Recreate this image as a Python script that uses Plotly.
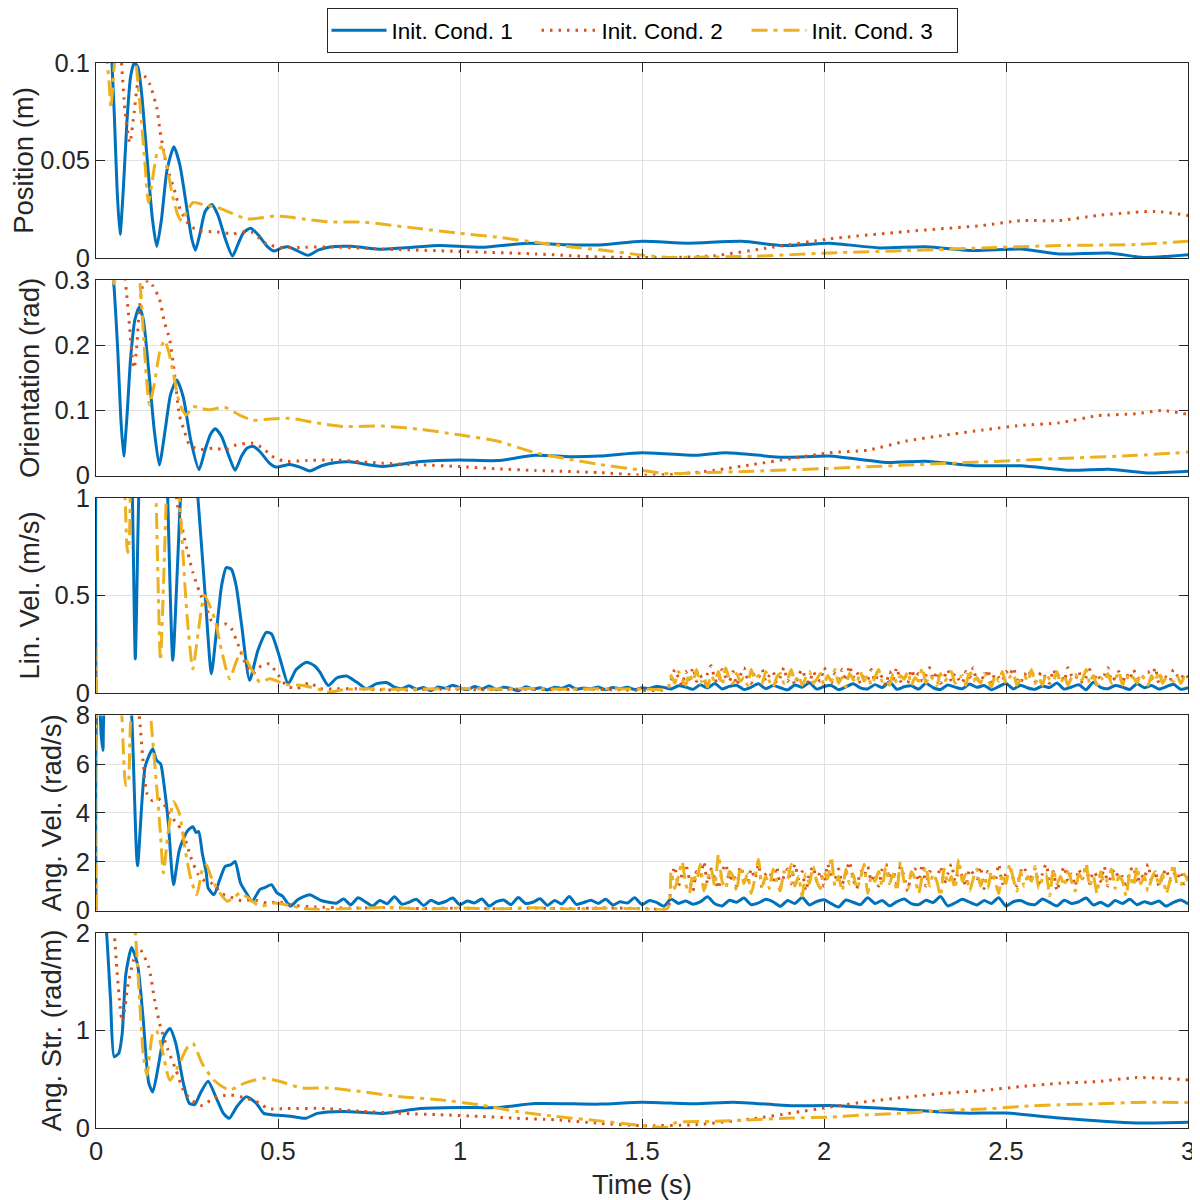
import numpy as np
import plotly.graph_objects as go
from plotly.subplots import make_subplots

# ---- data (time in s, value) -----------------------------------------------
POS_1 = [(0, 0.25), (0.02, 0.2), (0.04, 0.115), (0.05, 0.075), (0.058, 0.035), (0.066, 0.012),
         (0.075, 0.035), (0.085, 0.07), (0.095, 0.093), (0.105, 0.1), (0.115, 0.098), (0.125, 0.085),
         (0.14, 0.052), (0.155, 0.02), (0.167, 0.006), (0.18, 0.02), (0.195, 0.045), (0.214, 0.057),
         (0.23, 0.048), (0.25, 0.025), (0.263, 0.01), (0.273, 0.004), (0.285, 0.012), (0.3, 0.024),
         (0.318, 0.0274), (0.335, 0.022), (0.355, 0.01), (0.375, 0.001), (0.39, 0.007), (0.405, 0.013),
         (0.425, 0.0153), (0.445, 0.012), (0.47, 0.006), (0.49, 0.0036), (0.51, 0.0052), (0.528, 0.0058),
         (0.55, 0.004), (0.583, 0.0014), (0.61, 0.004), (0.643, 0.0057), (0.7, 0.006), (0.787, 0.0045),
         (0.87, 0.0055), (0.944, 0.0064), (1.06, 0.0055), (1.186, 0.0076), (1.3, 0.0068), (1.384, 0.0067),
         (1.5, 0.0086), (1.626, 0.0076), (1.773, 0.0086), (1.889, 0.0064), (2.015, 0.0076), (2.152, 0.0052),
         (2.278, 0.0058), (2.415, 0.0038), (2.541, 0.0046), (2.646, 0.0021), (2.783, 0.0026),
         (2.878, 0.0003), (3.0, 0.0017)]
POS_2 = [(0, 0.3), (0.03, 0.2), (0.06, 0.12), (0.07, 0.1), (0.08, 0.075), (0.093, 0.059), (0.105, 0.075),
         (0.115, 0.09), (0.125, 0.094), (0.135, 0.093), (0.148, 0.089), (0.167, 0.077), (0.176, 0.065),
         (0.194, 0.0475), (0.217, 0.0337), (0.231, 0.025), (0.258, 0.0165), (0.286, 0.0139), (0.332, 0.0134),
         (0.377, 0.0124), (0.41, 0.0135), (0.432, 0.013), (0.45, 0.01), (0.469, 0.0071), (0.514, 0.0053),
         (0.575, 0.0055), (0.643, 0.0057), (0.787, 0.0046), (0.997, 0.0034), (1.207, 0.0021), (1.384, 0.0005),
         (1.574, 0.0003), (1.7, 0.0012), (1.857, 0.0055), (2.015, 0.0098), (2.226, 0.0136), (2.436, 0.0167),
         (2.541, 0.0192), (2.646, 0.0192), (2.751, 0.0218), (2.909, 0.0239), (3.0, 0.0218)]
POS_3 = [(0, 0.14), (0.02, 0.115), (0.031, 0.1), (0.036, 0.09), (0.041, 0.077), (0.046, 0.088), (0.051, 0.1),
         (0.07, 0.12), (0.1, 0.115), (0.11, 0.1), (0.125, 0.07), (0.135, 0.0475), (0.144, 0.0285),
         (0.155, 0.04), (0.168, 0.054), (0.18, 0.057), (0.195, 0.047), (0.21, 0.032), (0.225, 0.022),
         (0.235, 0.019), (0.25, 0.024), (0.267, 0.0285), (0.3, 0.027), (0.332, 0.026), (0.369, 0.0233),
         (0.414, 0.02), (0.45, 0.0205), (0.49, 0.0215), (0.53, 0.021), (0.569, 0.02), (0.643, 0.0185),
         (0.734, 0.0184), (0.892, 0.015), (0.997, 0.0127), (1.102, 0.0107), (1.207, 0.0081), (1.312, 0.0055),
         (1.384, 0.0042), (1.5, 0.0015), (1.574, 0.0003), (1.647, 0.0004), (1.805, 0.0009), (2.015, 0.0026),
         (2.226, 0.0038), (2.436, 0.0052), (2.646, 0.0064), (2.857, 0.0069), (3.0, 0.0086)]

ORI_1 = [(0, 0.6), (0.03, 0.42), (0.05, 0.287), (0.06, 0.19), (0.068, 0.09), (0.076, 0.03), (0.085, 0.09),
         (0.095, 0.18), (0.107, 0.24), (0.119, 0.259), (0.13, 0.24), (0.145, 0.16), (0.16, 0.07), (0.174, 0.016),
         (0.19, 0.07), (0.205, 0.125), (0.222, 0.147), (0.24, 0.12), (0.26, 0.055), (0.283, 0.009), (0.3, 0.04),
         (0.315, 0.064), (0.328, 0.072), (0.345, 0.06), (0.365, 0.03), (0.382, 0.008), (0.4, 0.03),
         (0.415, 0.042), (0.431, 0.045), (0.45, 0.037), (0.475, 0.02), (0.495, 0.013), (0.532, 0.017),
         (0.56, 0.013), (0.587, 0.007), (0.62, 0.015), (0.66, 0.02), (0.697, 0.021), (0.787, 0.014),
         (0.892, 0.0215), (0.997, 0.024), (1.102, 0.023), (1.207, 0.031), (1.3, 0.029), (1.384, 0.03),
         (1.5, 0.035), (1.647, 0.031), (1.731, 0.035), (1.889, 0.028), (2.015, 0.03), (2.173, 0.02),
         (2.278, 0.022), (2.415, 0.015), (2.541, 0.015), (2.678, 0.008), (2.783, 0.0097), (2.888, 0.004),
         (3.0, 0.0067)]
ORI_2 = [(0, 0.6), (0.05, 0.38), (0.08, 0.3), (0.092, 0.23), (0.1, 0.18), (0.105, 0.165), (0.112, 0.2),
         (0.12, 0.26), (0.13, 0.295), (0.145, 0.3), (0.156, 0.292), (0.174, 0.272), (0.188, 0.236),
         (0.202, 0.21), (0.216, 0.155), (0.229, 0.093), (0.243, 0.068), (0.257, 0.047), (0.284, 0.04),
         (0.321, 0.042), (0.358, 0.04), (0.385, 0.047), (0.427, 0.05), (0.459, 0.042), (0.482, 0.03),
         (0.518, 0.022), (0.578, 0.023), (0.65, 0.024), (0.787, 0.019), (0.892, 0.0164), (0.997, 0.0138),
         (1.102, 0.0103), (1.207, 0.0077), (1.384, 0.0045), (1.5, 0.0005), (1.595, 0.002), (1.7, 0.008),
         (1.805, 0.017), (1.91, 0.026), (2.015, 0.035), (2.12, 0.039), (2.226, 0.053), (2.331, 0.062),
         (2.436, 0.07), (2.541, 0.077), (2.646, 0.081), (2.751, 0.092), (2.857, 0.095), (2.93, 0.1),
         (3.0, 0.094)]
ORI_3 = [(0, 0.5), (0.04, 0.32), (0.05, 0.295), (0.06, 0.32), (0.1, 0.36), (0.12, 0.3), (0.13, 0.22),
         (0.14, 0.14), (0.147, 0.109), (0.16, 0.14), (0.175, 0.19), (0.188, 0.208), (0.2, 0.19),
         (0.215, 0.15), (0.23, 0.11), (0.248, 0.093), (0.266, 0.106), (0.29, 0.103), (0.312, 0.101),
         (0.353, 0.105), (0.394, 0.093), (0.431, 0.085), (0.477, 0.087), (0.532, 0.088), (0.606, 0.081),
         (0.679, 0.0755), (0.787, 0.076), (0.892, 0.071), (0.997, 0.0626), (1.102, 0.053), (1.207, 0.035),
         (1.312, 0.024), (1.384, 0.017), (1.5, 0.008), (1.563, 0.003), (1.647, 0.004), (1.805, 0.0067),
         (2.015, 0.011), (2.226, 0.016), (2.436, 0.021), (2.646, 0.026), (2.857, 0.031), (3.0, 0.036)]

LIN_1 = [(0, 0), (0.004, 1.6), (0.05, 2.5), (0.09, 1.6), (0.1, 1.0), (0.108, 0.175), (0.115, 0.8),
         (0.119, 1.1), (0.15, 2.0), (0.19, 1.4), (0.197, 1.0), (0.211, 0.167), (0.225, 0.7), (0.234, 1.05),
         (0.26, 1.4), (0.28, 1.0), (0.3, 0.5), (0.317, 0.099), (0.33, 0.3), (0.345, 0.55), (0.358, 0.643),
         (0.372, 0.634), (0.385, 0.55), (0.4, 0.35), (0.422, 0.065), (0.445, 0.22), (0.468, 0.311),
         (0.482, 0.303), (0.505, 0.18), (0.528, 0.048), (0.55, 0.12), (0.578, 0.158), (0.6, 0.14),
         (0.615, 0.107), (0.638, 0.039), (0.661, 0.077), (0.688, 0.087), (0.716, 0.056), (0.743, 0.022),
         (0.771, 0.048), (0.8, 0.053)]
LIN_2 = [(0, 0), (0.004, 1.5), (0.1, 2.2), (0.2, 1.3), (0.225, 0.95), (0.24, 0.82), (0.252, 0.72),
         (0.266, 0.62), (0.284, 0.52), (0.303, 0.44), (0.317, 0.37), (0.339, 0.345), (0.358, 0.354),
         (0.372, 0.33), (0.39, 0.25), (0.413, 0.14), (0.431, 0.1), (0.454, 0.14), (0.477, 0.15),
         (0.495, 0.107), (0.523, 0.039), (0.55, 0.022), (0.587, 0.053), (0.615, 0.022), (0.661, 0.022),
         (0.716, 0.022), (0.771, 0.017), (0.85, 0.015), (0.95, 0.02), (1.05, 0.017), (1.15, 0.02),
         (1.25, 0.017), (1.35, 0.02), (1.45, 0.016), (1.57, 0.02)]
LIN_3 = [(0, 0), (0.004, 1.5), (0.06, 1.6), (0.08, 1.0), (0.085, 0.75), (0.088, 0.72), (0.092, 0.8),
         (0.096, 1.1), (0.13, 1.6), (0.16, 1.2), (0.165, 1.0), (0.177, 0.167), (0.188, 0.7), (0.195, 1.05),
         (0.215, 1.3), (0.229, 1.0), (0.25, 0.4), (0.266, 0.124), (0.28, 0.3), (0.298, 0.5), (0.326, 0.38),
         (0.344, 0.226), (0.367, 0.073), (0.385, 0.16), (0.399, 0.21), (0.422, 0.14), (0.45, 0.056),
         (0.477, 0.073), (0.523, 0.043), (0.569, 0.039), (0.615, 0.017), (0.642, 0.005), (0.679, 0.017),
         (0.743, 0.022), (0.798, 0.019), (0.9, 0.02), (1.0, 0.024), (1.1, 0.02), (1.2, 0.023), (1.3, 0.019),
         (1.4, 0.022), (1.5, 0.02), (1.57, 0.022)]

ANGV_1 = [(0, 0), (0.004, 8.5), (0.01, 8.3), (0.014, 7.25), (0.019, 6.57), (0.024, 8.6), (0.06, 10),
          (0.09, 9), (0.098, 8), (0.114, 1.84), (0.135, 5.9), (0.156, 6.64), (0.165, 6.2), (0.171, 6.1),
          (0.178, 6.0), (0.187, 5.14), (0.198, 3.71), (0.213, 1.06), (0.229, 2.49), (0.25, 3.24),
          (0.266, 3.44), (0.275, 3.2), (0.282, 3.24), (0.292, 2.35), (0.303, 1.54), (0.308, 0.93),
          (0.324, 0.65), (0.34, 1.27), (0.355, 1.81), (0.371, 1.88), (0.382, 2.01), (0.397, 1.13),
          (0.413, 0.72), (0.429, 0.38), (0.45, 0.86), (0.465, 0.95), (0.482, 1.06), (0.497, 0.72),
          (0.513, 0.58), (0.534, 0.18), (0.555, 0.45), (0.587, 0.65), (0.618, 0.41), (0.64, 0.34)]
ANGV_2 = [(0, 0), (0.004, 8.5), (0.06, 10), (0.11, 9), (0.12, 7.8), (0.13, 6.0), (0.14, 4.8), (0.155, 4.5),
          (0.17, 4.6), (0.185, 4.4), (0.2, 4.0), (0.22, 3.6), (0.235, 3.3), (0.25, 2.7), (0.26, 2.2),
          (0.28, 1.5), (0.3, 1.2), (0.32, 1.1), (0.345, 0.7), (0.37, 0.55), (0.4, 0.4), (0.43, 0.45),
          (0.47, 0.3), (0.5, 0.35), (0.55, 0.2), (0.6, 0.15), (0.7, 0.1), (0.8, 0.12), (0.9, 0.08),
          (1.0, 0.1), (1.1, 0.07), (1.2, 0.1), (1.3, 0.08), (1.4, 0.11), (1.5, 0.08), (1.57, 0.1)]
ANGV_3 = [(0, 0), (0.004, 8.5), (0.04, 10), (0.065, 9), (0.071, 8), (0.077, 6.0), (0.082, 5.14),
          (0.088, 5.2), (0.093, 7), (0.098, 8.5), (0.12, 10), (0.145, 9), (0.15, 8), (0.166, 5.2),
          (0.177, 3.17), (0.185, 1.54), (0.198, 3.17), (0.213, 4.46), (0.229, 3.98), (0.245, 2.49),
          (0.261, 1.27), (0.277, 0.65), (0.292, 1.67), (0.303, 1.88), (0.319, 1.27), (0.34, 0.72),
          (0.361, 0.38), (0.382, 0.58), (0.397, 0.72), (0.418, 0.52), (0.45, 0.18), (0.492, 0.31),
          (0.534, 0.2), (0.576, 0.07), (0.629, 0.04), (0.7, 0.08), (0.8, 0.12), (0.9, 0.06), (1.0, 0.1),
          (1.1, 0.07), (1.2, 0.11), (1.3, 0.06), (1.4, 0.09), (1.5, 0.07), (1.57, 0.09)]

STR_1 = [(0, 3.0), (0.02, 2.3), (0.029, 2.0), (0.04, 1.31), (0.05, 0.73), (0.063, 0.77), (0.072, 0.97),
         (0.082, 1.58), (0.098, 1.85), (0.114, 1.68), (0.129, 1.14), (0.145, 0.46), (0.156, 0.37),
         (0.171, 0.63), (0.187, 0.94), (0.203, 1.02), (0.219, 0.87), (0.24, 0.46), (0.256, 0.255),
         (0.271, 0.24), (0.287, 0.36), (0.308, 0.48), (0.329, 0.32), (0.35, 0.15), (0.366, 0.1),
         (0.387, 0.22), (0.413, 0.32), (0.44, 0.255), (0.461, 0.15), (0.482, 0.136), (0.534, 0.12),
         (0.576, 0.1), (0.608, 0.15), (0.681, 0.17), (0.787, 0.15), (0.892, 0.2), (0.997, 0.21),
         (1.102, 0.21), (1.207, 0.25), (1.384, 0.245), (1.5, 0.265), (1.647, 0.248), (1.752, 0.265),
         (1.91, 0.228), (2.015, 0.231), (2.226, 0.187), (2.383, 0.153), (2.5, 0.153), (2.646, 0.102),
         (2.857, 0.051), (3.0, 0.058)]
STR_2 = [(0, 3.5), (0.04, 2.3), (0.05, 2.0), (0.058, 1.6), (0.066, 1.25), (0.072, 1.09), (0.08, 1.25),
         (0.087, 1.45), (0.103, 1.72), (0.119, 1.84), (0.145, 1.65), (0.161, 1.31), (0.177, 1.04),
         (0.198, 0.8), (0.219, 0.6), (0.24, 0.39), (0.261, 0.29), (0.292, 0.23), (0.324, 0.31),
         (0.366, 0.34), (0.408, 0.31), (0.45, 0.255), (0.471, 0.2), (0.524, 0.2), (0.629, 0.2),
         (0.734, 0.17), (0.839, 0.15), (0.944, 0.136), (1.05, 0.12), (1.155, 0.1), (1.26, 0.085),
         (1.384, 0.048), (1.5, 0.024), (1.647, 0.034), (1.805, 0.095), (1.91, 0.153), (2.015, 0.214),
         (2.12, 0.272), (2.226, 0.316), (2.331, 0.357), (2.436, 0.384), (2.541, 0.425), (2.646, 0.459),
         (2.751, 0.476), (2.857, 0.517), (2.93, 0.51), (3.0, 0.493)]
STR_3 = [(0, 3.5), (0.06, 2.8), (0.1, 2.2), (0.108, 2.0), (0.12, 1.3), (0.13, 0.75), (0.14, 0.54),
         (0.156, 0.97), (0.166, 1.0), (0.182, 0.8), (0.203, 0.49), (0.229, 0.66), (0.25, 0.82),
         (0.266, 0.87), (0.292, 0.66), (0.324, 0.49), (0.366, 0.39), (0.408, 0.46), (0.461, 0.51),
         (0.503, 0.48), (0.566, 0.41), (0.639, 0.41), (0.734, 0.37), (0.839, 0.32), (0.944, 0.29),
         (1.05, 0.24), (1.155, 0.17), (1.26, 0.12), (1.384, 0.073), (1.5, 0.024), (1.568, 0.007),
         (1.595, 0.058), (1.7, 0.068), (1.805, 0.085), (1.91, 0.102), (2.015, 0.112), (2.12, 0.136),
         (2.226, 0.153), (2.331, 0.18), (2.436, 0.194), (2.541, 0.221), (2.646, 0.238), (2.751, 0.248),
         (2.857, 0.262), (3.0, 0.262)]

# noisy tails (sampled every 0.01 s from 1.58 s, or 0.02 s for blue)
NOISE_T = np.round(np.arange(1.58, 3.0001, 0.01), 2)
BLUE_LIN_T = np.round(np.arange(0.82, 3.0001, 0.02), 2)
BLUE_ANGV_T = np.round(np.arange(0.66, 3.0001, 0.02), 2)

LIN_3_NOISE = [0.09, 0.05, 0.11, 0.07, 0.04, 0.10, 0.06, 0.12, 0.05, 0.08,
               0.03, 0.09, 0.06, 0.11, 0.04, 0.13, 0.07, 0.05, 0.10, 0.06,
               0.08, 0.04, 0.12, 0.07, 0.09, 0.05, 0.11, 0.06, 0.03, 0.08,
               0.10, 0.05, 0.07, 0.12, 0.06, 0.09, 0.04, 0.08, 0.11, 0.05,
               0.07, 0.10, 0.04, 0.09, 0.06, 0.12, 0.05, 0.08, 0.03, 0.10,
               0.07, 0.05, 0.11, 0.06, 0.09, 0.04, 0.08, 0.12, 0.06, 0.07,
               0.04, 0.10, 0.05, 0.09, 0.07, 0.11, 0.04, 0.08, 0.06, 0.13,
               0.05, 0.09, 0.07, 0.04, 0.10, 0.06, 0.08, 0.11, 0.05, 0.07,
               0.09, 0.04, 0.12, 0.06, 0.08, 0.05, 0.10, 0.07, 0.03, 0.09,
               0.06, 0.11, 0.05, 0.08, 0.10, 0.04, 0.07, 0.09, 0.06, 0.12,
               0.05, 0.08, 0.04, 0.10, 0.07, 0.06, 0.11, 0.05, 0.09, 0.04,
               0.08, 0.10, 0.06, 0.07, 0.12, 0.05, 0.09, 0.04, 0.08, 0.06,
               0.10, 0.05, 0.07, 0.11, 0.04, 0.09, 0.06, 0.08, 0.05, 0.10,
               0.07, 0.04, 0.09, 0.06, 0.11, 0.05, 0.08, 0.07, 0.06, 0.09,
               0.05, 0.08, 0.07]
LIN_2_NOISE = [0.06, 0.12, 0.08, 0.04, 0.11, 0.07, 0.13, 0.06, 0.09, 0.05,
               0.10, 0.14, 0.07, 0.05, 0.12, 0.08, 0.06, 0.11, 0.04, 0.09,
               0.13, 0.07, 0.05, 0.10, 0.08, 0.12, 0.06, 0.09, 0.11, 0.05,
               0.08, 0.13, 0.06, 0.10, 0.04, 0.09, 0.12, 0.07, 0.05, 0.11,
               0.08, 0.06, 0.13, 0.09, 0.05, 0.10, 0.07, 0.12, 0.06, 0.14,
               0.08, 0.11, 0.05, 0.09, 0.07, 0.12, 0.06, 0.10, 0.08, 0.04,
               0.11, 0.07, 0.13, 0.06, 0.09, 0.05, 0.12, 0.08, 0.10, 0.06,
               0.09, 0.13, 0.07, 0.11, 0.05, 0.08, 0.12, 0.06, 0.10, 0.07,
               0.05, 0.11, 0.08, 0.13, 0.06, 0.09, 0.07, 0.12, 0.05, 0.10,
               0.08, 0.06, 0.11, 0.09, 0.13, 0.07, 0.05, 0.10, 0.08, 0.12,
               0.06, 0.09, 0.11, 0.07, 0.05, 0.12, 0.08, 0.10, 0.06, 0.13,
               0.09, 0.07, 0.11, 0.05, 0.08, 0.12, 0.06, 0.10, 0.07, 0.09,
               0.13, 0.06, 0.08, 0.11, 0.05, 0.10, 0.07, 0.12, 0.08, 0.06,
               0.09, 0.11, 0.07, 0.13, 0.05, 0.10, 0.08, 0.06, 0.12, 0.09,
               0.07, 0.10, 0.08]
ANGV_3_NOISE = [1.6, 0.9, 1.4, 2.0, 1.1, 0.7, 1.5, 1.2, 1.9, 0.8,
                1.3, 1.7, 1.0, 2.3, 1.2, 0.9, 1.6, 1.4, 0.8, 1.8,
                1.1, 1.5, 0.7, 1.3, 2.1, 1.0, 1.4, 0.9, 1.7, 1.2,
                0.8, 1.6, 1.3, 1.9, 1.0, 1.4, 0.6, 1.5, 1.1, 1.8,
                1.2, 0.9, 1.6, 1.3, 2.2, 1.0, 1.4, 0.8, 1.7, 1.1,
                1.5, 0.9, 1.3, 1.9, 0.7, 1.4, 1.2, 1.6, 1.0, 1.8,
                1.1, 1.5, 0.8, 2.0, 1.2, 0.9, 1.6, 1.3, 0.7, 1.4,
                1.8, 1.0, 1.5, 1.2, 0.6, 1.7, 1.1, 1.4, 0.9, 2.1,
                1.2, 1.5, 0.8, 1.3, 1.7, 1.0, 1.4, 0.9, 1.6, 1.2,
                0.7, 1.5, 1.1, 1.9, 1.3, 0.8, 1.6, 1.0, 1.4, 1.2,
                1.8, 0.9, 1.3, 1.5, 0.6, 1.7, 1.1, 1.4, 1.0, 1.6,
                1.2, 0.8, 1.5, 1.3, 1.9, 1.0, 1.4, 0.7, 1.6, 1.1,
                1.3, 1.7, 0.9, 1.4, 1.2, 0.6, 1.5, 1.0, 1.8, 1.1,
                1.4, 0.8, 1.3, 1.6, 1.0, 1.5, 0.7, 1.2, 1.9, 1.1,
                1.0, 1.5, 1.2]
ANGV_2_NOISE = [1.2, 1.8, 1.0, 1.5, 1.9, 1.3, 0.8, 1.6, 1.4, 2.0,
                1.1, 1.7, 1.3, 0.9, 1.6, 1.9, 1.2, 1.5, 1.0, 1.8,
                1.4, 1.1, 1.7, 1.3, 1.9, 0.9, 1.5, 1.6, 1.2, 1.8,
                1.0, 1.4, 1.7, 1.1, 1.9, 1.3, 1.6, 0.8, 1.5, 1.8,
                1.2, 1.6, 1.0, 1.9, 1.4, 1.3, 1.7, 1.1, 1.5, 2.0,
                1.3, 0.9, 1.6, 1.4, 1.8, 1.2, 1.5, 1.0, 1.7, 1.9,
                1.3, 1.6, 1.1, 1.8, 1.4, 0.8, 1.5, 1.7, 1.2, 1.9,
                1.0, 1.6, 1.4, 1.3, 1.8, 1.1, 1.5, 1.9, 1.2, 1.6,
                1.4, 1.0, 1.7, 1.5, 1.3, 1.8, 0.9, 1.6, 1.4, 1.2,
                1.9, 1.1, 1.5, 1.7, 1.3, 1.0, 1.6, 1.8, 1.2, 1.4,
                1.7, 1.1, 1.5, 1.9, 1.3, 1.6, 0.8, 1.4, 1.8, 1.2,
                1.5, 1.0, 1.7, 1.3, 1.9, 1.1, 1.6, 1.4, 1.2, 1.8,
                1.0, 1.5, 1.7, 1.3, 1.4, 0.9, 1.6, 1.8, 1.1, 1.5,
                1.3, 1.9, 1.2, 1.6, 1.0, 1.4, 1.7, 1.2, 1.5, 1.3,
                1.6, 1.1, 1.4]
LIN_1_NOISE = [0.030, 0.022, 0.037, 0.019, 0.028, 0.012, 0.031, 0.024, 0.040, 0.026,
               0.018, 0.033, 0.021, 0.036, 0.017, 0.029, 0.023, 0.011, 0.032, 0.020,
               0.027, 0.016, 0.030, 0.024, 0.038, 0.019, 0.026, 0.021, 0.031, 0.017,
               0.028, 0.022, 0.030, 0.018, 0.027, 0.023, 0.033, 0.029, 0.020, 0.037,
               0.031, 0.019, 0.042, 0.026, 0.049, 0.021, 0.034, 0.040, 0.018, 0.030,
               0.047, 0.022, 0.038, 0.027, 0.016, 0.041, 0.029, 0.052, 0.020, 0.033,
               0.039, 0.017, 0.031, 0.048, 0.026, 0.021, 0.043, 0.028, 0.058, 0.019,
               0.032, 0.037, 0.020, 0.050, 0.027, 0.018, 0.041, 0.030, 0.022, 0.046,
               0.029, 0.038, 0.017, 0.033, 0.049, 0.021, 0.040, 0.026, 0.019, 0.036,
               0.028, 0.051, 0.020, 0.031, 0.042, 0.017, 0.055, 0.029, 0.022, 0.038,
               0.030, 0.018, 0.047, 0.027, 0.039, 0.020, 0.032, 0.045, 0.019, 0.028]
ANGV_1_NOISE = [0.30, 0.47, 0.24, 0.52, 0.36, 0.19, 0.41, 0.28, 0.56, 0.26,
                0.34, 0.46, 0.21, 0.42, 0.29, 0.37, 0.51, 0.23, 0.39, 0.31,
                0.47, 0.18, 0.36, 0.43, 0.24, 0.53, 0.29, 0.34, 0.48, 0.21,
                0.41, 0.27, 0.57, 0.25, 0.33, 0.42, 0.29, 0.46, 0.23, 0.36,
                0.31, 0.52, 0.24, 0.41, 0.33, 0.18, 0.47, 0.29, 0.39, 0.26,
                0.35, 0.56, 0.28, 0.19, 0.42, 0.34, 0.51, 0.24, 0.31, 0.46,
                0.36, 0.17, 0.41, 0.29, 0.53, 0.23, 0.37, 0.44, 0.28, 0.14,
                0.43, 0.34, 0.24, 0.52, 0.29, 0.41, 0.19, 0.36, 0.47, 0.28,
                0.24, 0.42, 0.33, 0.57, 0.19, 0.31, 0.46, 0.34, 0.23, 0.41,
                0.29, 0.52, 0.18, 0.36, 0.41, 0.28, 0.24, 0.47, 0.33, 0.19,
                0.42, 0.29, 0.36, 0.51, 0.23, 0.34, 0.18, 0.41, 0.29, 0.46,
                0.24, 0.36, 0.28, 0.39, 0.18, 0.33, 0.43, 0.27]

NAMES = ["Init. Cond. 1", "Init. Cond. 2", "Init. Cond. 3"]
Y_TITLES = ["Position (m)", "Orientation (rad)", "Lin. Vel. (m/s)", "Ang. Vel. (rad/s)", "Ang. Str. (rad/m)"]
Y_RANGES = [[0, 0.1], [0, 0.3], [0, 1], [0, 8], [0, 2]]
Y_TICKS = [[0, 0.05, 0.1], [0, 0.1, 0.2, 0.3], [0, 0.5, 1], [0, 2, 4, 6, 8], [0, 1, 2]]
Y_TICKTEXT = [["0", "0.05", "0.1"], ["0", "0.1", "0.2", "0.3"], ["0", "0.5", "1"],
              ["0", "2", "4", "6", "8"], ["0", "1", "2"]]
X_TICKS = [0, 0.5, 1, 1.5, 2, 2.5, 3]
X_TICKTEXT = ["0", "0.5", "1", "1.5", "2", "2.5", "3"]

COLORS = ["#0072BD", "#D95319", "#EDB120"]
DASHES = ["solid", "2.5px,6px", "16px,6px,4px,6px"]
FONT = "Liberation Sans, Arial, Helvetica, sans-serif"
AX = "#262626"


def unzip(pairs):
    return [p[0] for p in pairs], [p[1] for p in pairs]


def series(pairs, tail_t=None, tail_v=None):
    t, v = unzip(pairs)
    if tail_t is not None:
        n = min(len(tail_t), len(tail_v))
        t = t + list(tail_t[:n])
        v = v + list(tail_v[:n])
    return t, v


panels = [
    [series(POS_1), series(POS_2), series(POS_3)],
    [series(ORI_1), series(ORI_2), series(ORI_3)],
    [series(LIN_1, BLUE_LIN_T, LIN_1_NOISE), series(LIN_2, NOISE_T, LIN_2_NOISE),
     series(LIN_3, NOISE_T, LIN_3_NOISE)],
    [series(ANGV_1, BLUE_ANGV_T, ANGV_1_NOISE), series(ANGV_2, NOISE_T, ANGV_2_NOISE),
     series(ANGV_3, NOISE_T, ANGV_3_NOISE)],
    [series(STR_1), series(STR_2), series(STR_3)],
]

fig = make_subplots(rows=5, cols=1, shared_xaxes=True, vertical_spacing=0.0211)

for r, panel in enumerate(panels, start=1):
    for k, (t, v) in enumerate(panel):
        fig.add_trace(go.Scatter(
            x=t, y=v, mode="lines", name=NAMES[k], legendgroup=NAMES[k],
            showlegend=(r == 1),
            line=dict(color=COLORS[k], width=3, dash=DASHES[k], shape="spline", smoothing=0.6),
        ), row=r, col=1)

axis_common = dict(
    showline=True, linecolor=AX, linewidth=1, mirror="ticks",
    ticks="inside", ticklen=9, tickcolor=AX, tickwidth=1, automargin=False,
    showgrid=True, gridcolor="#e1e1e1", gridwidth=1, zeroline=False,
    tickfont=dict(family=FONT, size=25.5, color=AX),
)

for r in range(1, 6):
    fig.update_xaxes(range=[0, 3], tickvals=X_TICKS, ticktext=X_TICKTEXT,
                     showticklabels=(r == 5), row=r, col=1, **axis_common)
    fig.update_yaxes(range=Y_RANGES[r - 1], tickvals=Y_TICKS[r - 1], ticktext=Y_TICKTEXT[r - 1],
                     title=dict(text=Y_TITLES[r - 1], font=dict(family=FONT, size=27.5, color=AX), standoff=6),
                     row=r, col=1, **axis_common)

fig.update_xaxes(title=dict(text="Time (s)", font=dict(family=FONT, size=27.5, color=AX), standoff=12),
                 row=5, col=1)

# the page body shifts the figure by 8px, so it is drawn 8px smaller
fig.update_layout(
    width=1192, height=1192,
    margin=dict(l=88, r=12, t=55, b=72, autoexpand=False),
    paper_bgcolor="white", plot_bgcolor="white",
    font=dict(family=FONT, color="black"),
    legend=dict(orientation="h", x=0.5, xanchor="center", y=1.0516, yanchor="top",
                bordercolor="#262626", borderwidth=1, bgcolor="white",
                font=dict(family=FONT, size=22.5, color="black"),
                itemwidth=55, entrywidth=140),
    showlegend=True,
)

fig.write_html("out.html")
